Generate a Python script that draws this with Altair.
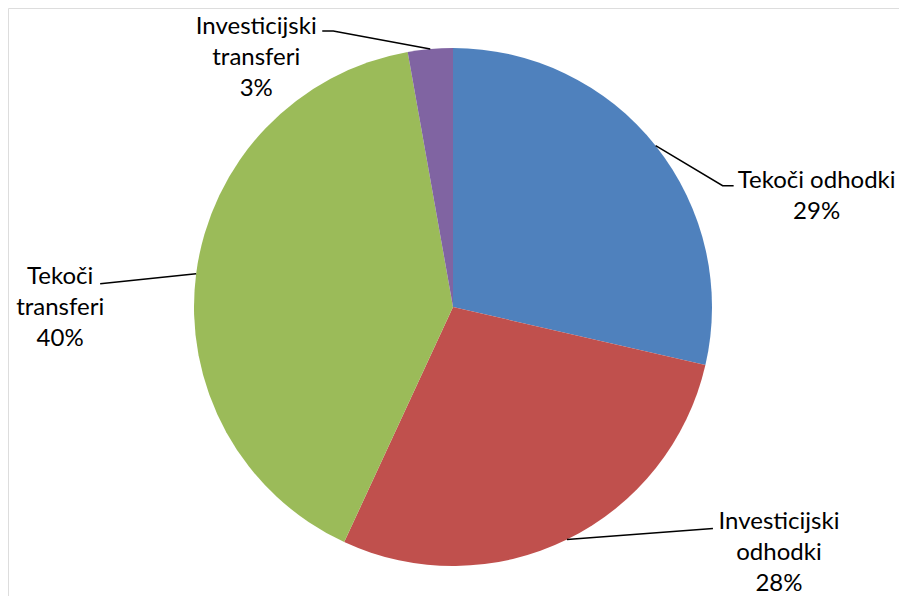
import math
import altair as alt
import pandas as pd

categories = ["Tekoči odhodki", "Investicijski odhodki", "Tekoči transferi", "Investicijski transferi"]
values = [28.6, 28.3, 40.3, 2.8]
colors = ["#4F81BD", "#C0504D", "#9BBB59", "#8064A2"]

W, H = 891, 588
CX, CY, R = 445, 299, 259
FONT = "Lato"
FS = 24
LH = 31

# label layout offsets relative to the slice's outer mid point
layout = [
    dict(elbow=(67, 40), end=(78, 40), text=(161, 42), wrap=False),
    dict(elbow=(146, -11), end=(146, -11), text=(212, -11), wrap=True),
    dict(elbow=(-96, 10), end=(-96, 10), text=(-136, 10), wrap=True),
    dict(elbow=(-97, -18), end=(-108, -18), text=(-174, -15), wrap=True),
]

total = sum(values)
pie = pd.DataFrame({"cat": categories, "value": values, "idx": list(range(len(values)))})

line_rows, text_rows = [], []
cum = 0.0
for i, (c, v) in enumerate(zip(categories, values)):
    mid = (cum + v / 2) / total * 2 * math.pi
    cum += v
    ex = CX + R * math.sin(mid)
    ey = CY - R * math.cos(mid)
    L = layout[i]
    pts = [(ex, ey), (ex + L["elbow"][0], ey + L["elbow"][1]), (ex + L["end"][0], ey + L["end"][1])]
    for k, (px, py) in enumerate(pts):
        line_rows.append({"cat": c, "o": k, "x": px, "y": py})
    pct = f"{round(v / total * 100)}%"
    lines = (c.split(" ") if L["wrap"] else [c]) + [pct]
    text_rows.append({"cat": c, "x": ex + L["text"][0], "y": ey + L["text"][1], "lines": lines})

lines_df = pd.DataFrame(line_rows)
text_df = pd.DataFrame(text_rows)

xs = alt.Scale(domain=[0, W], range=[0, W])
ys = alt.Scale(domain=[0, H], range=[0, H])

arcs = alt.Chart(pie).mark_arc(radius=R).encode(
    theta=alt.Theta("value:Q", stack=True),
    order=alt.Order("idx:Q"),
    color=alt.Color("cat:N", scale=alt.Scale(domain=categories, range=colors), legend=None),
    x=alt.value(CX),
    y=alt.value(CY),
)

leaders = alt.Chart(lines_df).mark_line(color="black", strokeWidth=1.5).encode(
    x=alt.X("x:Q", scale=xs, axis=None),
    y=alt.Y("y:Q", scale=ys, axis=None),
    detail="cat:N",
    order="o:Q",
)

labels = alt.Chart(text_df).mark_text(
    align="center", baseline="alphabetic", font=FONT, fontSize=FS, lineHeight=LH, color="black"
).encode(
    x=alt.X("x:Q", scale=xs, axis=None),
    y=alt.Y("y:Q", scale=ys, axis=None),
    text="lines:N",
)

chart = alt.layer(arcs, leaders, labels).properties(
    width=W, height=H, autosize=alt.AutoSizeParams(type="none"), padding=0
).configure_view(stroke="transparent", strokeWidth=0).configure(background="white")

chart.save("out.html", embed_options={"renderer": "svg", "actions": False})
